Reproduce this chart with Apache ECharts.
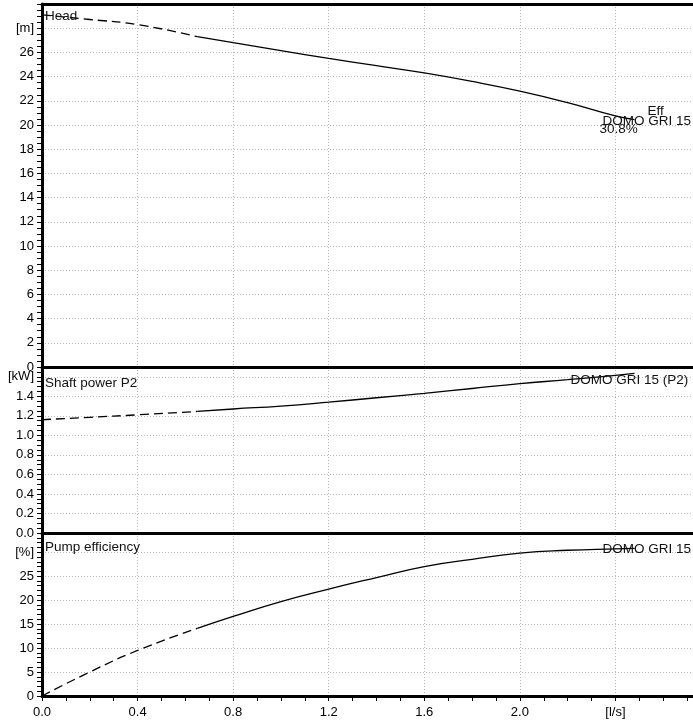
<!DOCTYPE html>
<html>
<head>
<meta charset="utf-8">
<script src="https://cdn.jsdelivr.net/npm/echarts@6/dist/echarts.min.js"></script>
<style>
html,body{margin:0;padding:0;background:#fff;}
#c{width:693px;height:724px;}
</style>
</head>
<body>
<div id="c"></div>
<script>
// ---- data ----
const flowDashed  = [0, 0.2, 0.4, 0.65];
const headDashed  = [29.1, 28.72, 28.3, 27.3];
const powerDashed = [1.16, 1.185, 1.21, 1.245];
const effDashed   = [0, 5.0, 9.5, 14.1];

const flowSolid  = [0.65, 0.8, 1.0, 1.2, 1.4, 1.6, 1.8, 2.0, 2.2, 2.4, 2.48];
const headSolid  = [27.3, 26.8, 26.15, 25.5, 24.9, 24.3, 23.6, 22.8, 21.85, 20.75, 20.45];
const powerSolid = [1.245, 1.27, 1.30, 1.34, 1.385, 1.43, 1.48, 1.53, 1.57, 1.615, 1.635];
const effSolid   = [14.1, 16.6, 19.7, 22.3, 24.7, 27.0, 28.5, 29.8, 30.4, 30.7, 30.8];

const flowTickLabels  = ['0.0', '0.4', '0.8', '1.2', '1.6', '2.0', '[l/s]'];
const headTickLabels  = ['0', '2', '4', '6', '8', '10', '12', '14', '16', '18', '20', '22', '24', '26', '[m]'];
const powerTickLabels = ['0.0', '0.2', '0.4', '0.6', '0.8', '1.0', '1.2', '1.4', '[kW]'];
const effTickLabels   = ['0', '5', '10', '15', '20', '25', '[%]'];

const panelTitles = ['Head', 'Shaft power P2', 'Pump efficiency'];
const pumpName = 'DOMO GRI 15';
const powerName = 'DOMO GRI 15 (P2)';
const effBadge = 'Eff';
const effBest = '30.8%';

// ---- chart ----
const FONT = '"Liberation Sans", Arial, sans-serif';
const pairs = (xs, ys) => xs.map((x, i) => [x, ys[i]]);
const labelFrom = (arr, step) => v => {
  const i = Math.round(v / step);
  if (Math.abs(i * step - v) > 1e-6) return '';
  return arr[i] !== undefined ? arr[i] : '';
};

const grids = [
  {left: 42, top: 4, width: 669, height: 363, outerBoundsMode: 'none', containLabel: false},
  {left: 42, top: 367, width: 669, height: 166, outerBoundsMode: 'none', containLabel: false},
  {left: 42, top: 533, width: 669, height: 163, outerBoundsMode: 'none', containLabel: false}
];

const gridLine = {show: true, lineStyle: {color: '#b8b8b8', width: 1, type: [1, 2]}};
const thickLine = {show: true, onZero: false, lineStyle: {color: '#000', width: 3}};
const tickStyle = {color: '#000', width: 1};
const labelStyle = {color: '#000', fontFamily: FONT, fontSize: 13};

function xAx(gridIndex, withLabels) {
  return {
    type: 'value', gridIndex, min: 0, max: 2.8, interval: 0.4,
    axisLine: thickLine,
    axisTick: {show: withLabels, length: 5, lineStyle: tickStyle},
    minorTick: {show: withLabels, splitNumber: 4, length: 5, lineStyle: tickStyle},
    axisLabel: withLabels ? Object.assign({margin: 10, formatter: labelFrom(flowTickLabels, 0.4)}, labelStyle) : {show: false},
    splitLine: gridLine
  };
}
function yAx(gridIndex, max, interval, split, labels) {
  return {
    type: 'value', gridIndex, min: 0, max, interval,
    axisLine: thickLine,
    axisTick: {show: true, length: 5, lineStyle: tickStyle},
    minorTick: {show: true, splitNumber: split, length: 5, lineStyle: tickStyle},
    axisLabel: Object.assign({margin: 8, formatter: labelFrom(labels, interval)}, labelStyle),
    splitLine: gridLine
  };
}

const lineBase = {type: 'line', symbol: 'none', smooth: 0.5, silent: true};
const dashed = {color: '#000', width: 1.3, type: [9, 5]};
const solid = {color: '#000', width: 1.3};

const chart = echarts.init(document.getElementById('c'), null, {renderer: 'canvas'});
chart.setOption({
  animation: false,
  backgroundColor: '#fff',
  grid: grids,
  xAxis: [
    xAx(0, false), xAx(1, false), xAx(2, true),
    {type: 'value', gridIndex: 0, position: 'top', min: 0, max: 2.8,
     axisLine: thickLine, axisTick: {show: false}, axisLabel: {show: false}, splitLine: {show: false}}
  ],
  yAxis: [
    yAx(0, 30, 2, 4, headTickLabels),
    yAx(1, 1.7, 0.2, 4, powerTickLabels),
    yAx(2, 34, 5, 5, effTickLabels)
  ],
  series: [
    Object.assign({}, lineBase, {xAxisIndex: 0, yAxisIndex: 0, data: pairs(flowDashed, headDashed), lineStyle: dashed}),
    Object.assign({}, lineBase, {xAxisIndex: 0, yAxisIndex: 0, data: pairs(flowSolid, headSolid), lineStyle: solid}),
    Object.assign({}, lineBase, {xAxisIndex: 1, yAxisIndex: 1, data: pairs(flowDashed, powerDashed), lineStyle: dashed}),
    Object.assign({}, lineBase, {xAxisIndex: 1, yAxisIndex: 1, data: pairs(flowSolid, powerSolid), lineStyle: solid}),
    Object.assign({}, lineBase, {xAxisIndex: 2, yAxisIndex: 2, data: pairs(flowDashed, effDashed), lineStyle: dashed}),
    Object.assign({}, lineBase, {xAxisIndex: 2, yAxisIndex: 2, data: pairs(flowSolid, effSolid), lineStyle: solid})
  ]
});

// annotations anchored at curve ends
const last = a => a[a.length - 1];
const endHead = chart.convertToPixel({xAxisIndex: 0, yAxisIndex: 0}, [last(flowSolid), last(headSolid)]);
const endPow = chart.convertToPixel({xAxisIndex: 1, yAxisIndex: 1}, [last(flowSolid), last(powerSolid)]);
const endEff = chart.convertToPixel({xAxisIndex: 2, yAxisIndex: 2}, [last(flowSolid), last(effSolid)]);

const txt = (text, x, y, size) => ({
  type: 'text', x, y, z: 100,
  style: {text, fill: '#111', font: size + 'px ' + FONT, textAlign: 'left', textVerticalAlign: 'middle'}
});

chart.setOption({
  graphic: [
    txt(panelTitles[0], 45, 16, 13.5),
    txt(panelTitles[1], 45, 383, 13.5),
    txt(panelTitles[2], 45, 547, 13.5),
    txt(effBadge, endHead[0] + 13, endHead[1] - 8, 13.5),
    txt(pumpName, endHead[0] - 32, endHead[1] + 2, 13.5),
    txt(effBest, endHead[0] - 35, endHead[1] + 10, 13.5),
    txt(powerName, endPow[0] - 64, endPow[1] + 7, 13.5),
    txt(pumpName, endEff[0] - 32, endEff[1] + 1, 13.5)
  ]
});
</script>
</body>
</html>
